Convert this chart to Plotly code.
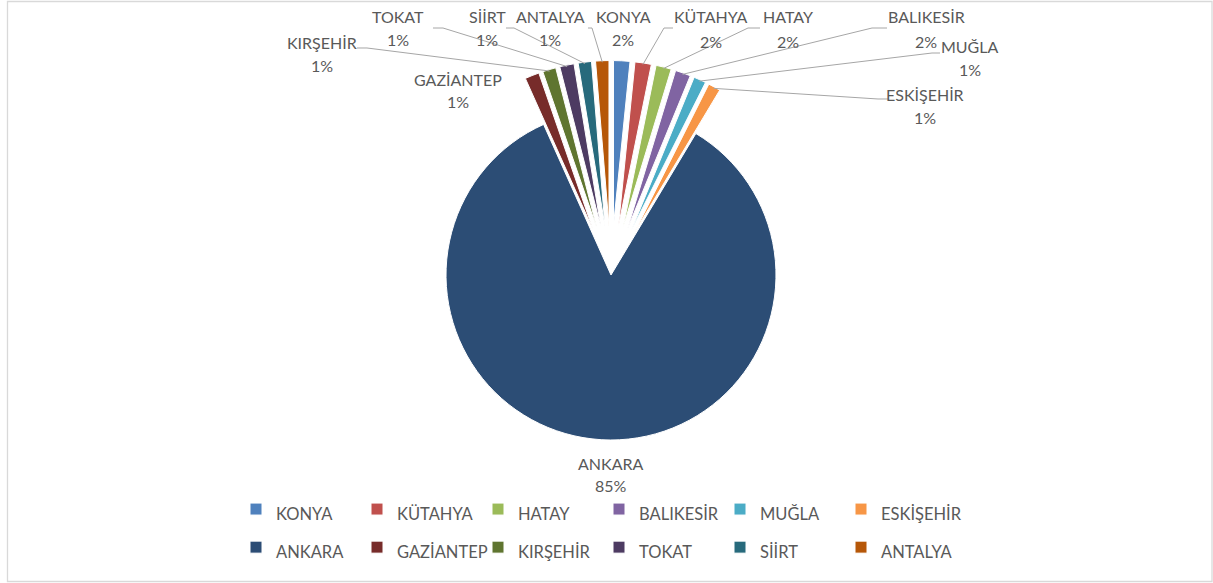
import math
import plotly.graph_objects as go

# ---------------- data ----------------
cities = ["KONYA", "KÜTAHYA", "HATAY", "BALIKESİR", "MUĞLA", "ESKİŞEHİR",
          "ANKARA", "GAZİANTEP", "KIRŞEHİR", "TOKAT", "SİİRT", "ANTALYA"]
shares = [1.6, 1.6, 1.5, 1.5, 1.2, 1.2, 84.7, 1.4, 1.3, 1.4, 1.3, 1.3]
colors = ["#4F81BD", "#C0504D", "#9BBB59", "#8064A2", "#4BACC6", "#F79646",
          "#2C4D75", "#772C2A", "#5F7530", "#4D3B62", "#276A7C", "#B65708"]

# ---------------- layout constants ----------------
W, H = 1213, 583
ML, MR, MT, MB = 221, 212, 0, 0
GW, GH = W - ML - MR, H - MT - MB
DOM_X = [0.1, 0.9]
DOM_Y = [0.1604, 0.8962]
PULL_SMALL = 0.3
TEXT = "#595959"
FONT = "Lato"

pulls = [0 if c == "ANKARA" else PULL_SMALL for c in cities]


def px2paper(x, y):
    return (x - ML) / GW, 1 - (y - MT) / GH


# label placement (text centre x, name y, percent y) and leader start (x, y, elbow dx)
label_pos = {
    "KONYA": (623, 16, 40, None),
    "KÜTAHYA": (711, 16, 41, (673, 28, -9)),
    "HATAY": (788, 16, 41, (760, 28, -12)),
    "BALIKESİR": (926, 16, 41, (887, 28, -15)),
    "MUĞLA": (970, 47, 70, (940, 53, -8)),
    "ESKİŞEHİR": (925, 94, 117, (888, 99, -10)),
    "ANKARA": (611, 463, 485, None),
    "GAZİANTEP": (458, 80, 102, None),
    "KIRŞEHİR": (322, 43, 65, (357, 48, 10)),
    "TOKAT": (398, 16, 40, (433, 28, 10)),
    "SİİRT": (487, 16, 40, (506, 28, 8)),
    "ANTALYA": (550, 16, 40, (588, 28, 4)),
}

total = sum(shares)
max_pull = max(pulls)
r = min(GW * (DOM_X[1] - DOM_X[0]), GH * (DOM_Y[1] - DOM_Y[0])) / (2 + 2 * max_pull)
cx = ML + GW * (DOM_X[0] + DOM_X[1]) / 2
cy = MT + GH * (1 - (DOM_Y[0] + DOM_Y[1]) / 2)


def pct_text(v):
    return f"{int(math.floor(v / total * 100 + 0.5 + 1e-9))}%"


fig = go.Figure(go.Pie(
    labels=[f'<span style="font-size:16.5px">{c}</span>' for c in cities],
    values=shares,
    sort=False,
    direction="clockwise",
    rotation=0,
    pull=pulls,
    marker=dict(colors=colors, line=dict(color="white", width=1)),
    textinfo="none",
    hovertext=cities,
    hoverinfo="text+percent",
    domain=dict(x=DOM_X, y=DOM_Y),
))

annotations = []
shapes = []
cum = 0.0
for c, v, p in zip(cities, shares, pulls):
    mid = (cum + v / 2) / total * 2 * math.pi
    cum += v
    lx, ny, py, lead = label_pos[c]
    for txt, yy in ((c, ny), (pct_text(v), py)):
        xp, yp = px2paper(lx, yy)
        annotations.append(dict(x=xp, y=yp, xref="paper", yref="paper", text=txt,
                                showarrow=False, xanchor="center", yanchor="middle",
                                font=dict(family=FONT, size=16, color=TEXT)))
    if lead is not None:
        dist = r * (1 + p) - 1.5
        tx = cx + dist * math.sin(mid)
        ty = cy - dist * math.cos(mid)
        sx, sy, ex = lead
        pts = [px2paper(sx, sy), px2paper(sx + ex, sy), px2paper(tx, ty)]
        path = "M " + " L ".join(f"{a:.5f},{b:.5f}" for a, b in pts)
        shapes.append(dict(type="path", path=path, xref="paper", yref="paper",
                           line=dict(color="#A6A6A6", width=1)))

# chart border
bx0, by0 = px2paper(7.5, 1.5)
bx1, by1 = px2paper(1212, 581.5)
shapes.append(dict(type="rect", xref="paper", yref="paper", x0=bx0, y0=by1, x1=bx1, y1=by0,
                   line=dict(color="#D9D9D9", width=1.3)))

lgx, lgy = px2paper(236, 485)
fig.update_layout(
    width=W, height=H,
    margin=dict(l=ML, r=MR, t=MT, b=MB, autoexpand=False),
    paper_bgcolor="white", plot_bgcolor="white",
    font=dict(family=FONT, color=TEXT),
    annotations=annotations,
    shapes=shapes,
    legend=dict(orientation="h", x=lgx, y=lgy, xanchor="left", yanchor="top",
                entrywidth=76, font=dict(family=FONT, size=27, color=TEXT),
                bgcolor="rgba(0,0,0,0)"),
    showlegend=True,
)

fig.write_html("out.html", config={"displayModeBar": False},
               post_script="document.body.style.margin='0';")
